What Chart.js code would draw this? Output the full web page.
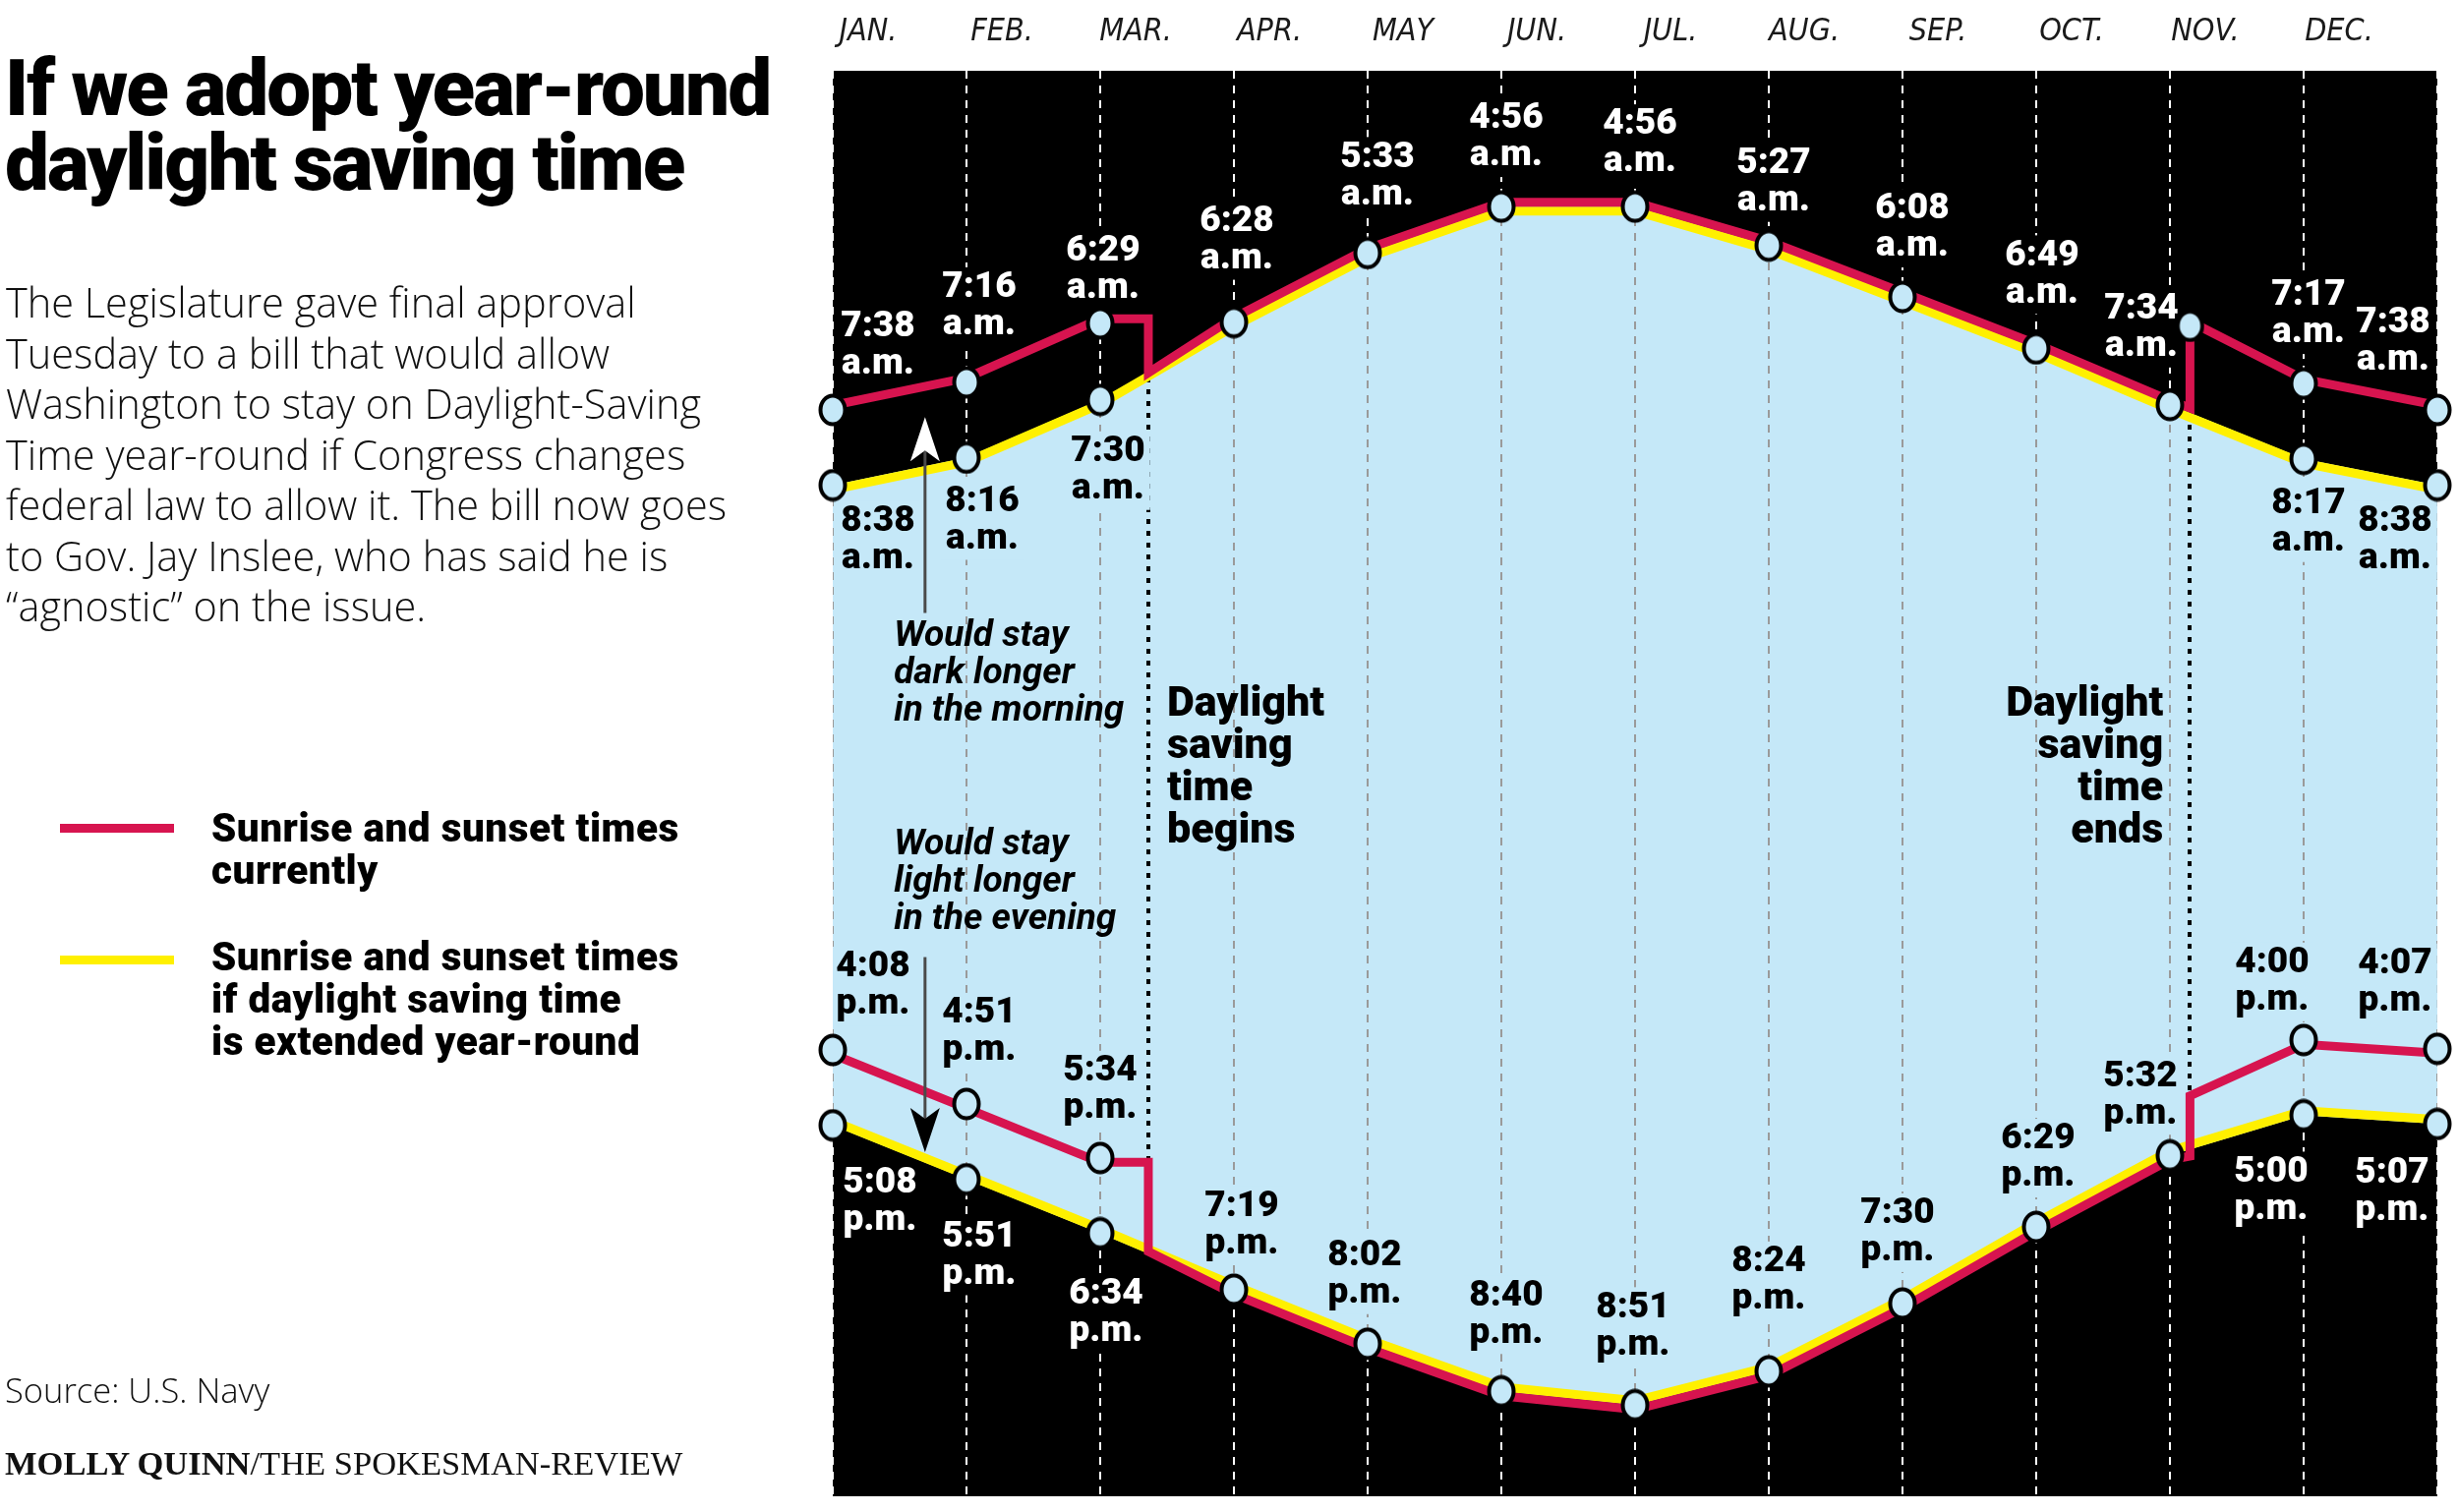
<!DOCTYPE html>
<html>
<head>
<meta charset="utf-8">
<script src="https://cdn.jsdelivr.net/npm/chart.js@4.4.1/dist/chart.umd.min.js"></script>
<style>
html,body{margin:0;padding:0;background:#fff;}
body{width:2500px;height:1538px;position:relative;overflow:hidden;font-family:Roboto,"DejaVu Sans",sans-serif;color:#111;}
#c{position:absolute;left:0;top:0;}
.t{position:absolute;white-space:nowrap;}
#title{left:5px;top:52px;font-weight:900;font-size:80px;line-height:76px;letter-spacing:-2px;color:#000;}
#intro{left:6px;top:282px;font-family:"Open Sans",Roboto,sans-serif;font-weight:300;font-size:41.5px;line-height:51.5px;color:#111;}
.sw{position:absolute;left:61px;width:116px;height:9px;}
.lg{position:absolute;left:215px;font-weight:900;font-size:40.5px;line-height:43px;letter-spacing:0.5px;color:#000;}
#src{left:5px;top:1394px;font-family:"Open Sans",Roboto,sans-serif;font-weight:300;font-size:34.5px;line-height:40px;}
#credit{left:5px;top:1468px;font-family:"Liberation Serif","DejaVu Serif",serif;font-size:34.5px;line-height:40px;color:#111;}
</style>
</head>
<body>
<canvas id="c" width="2500" height="1538"></canvas>
<div class="t" id="title">If we adopt year-round<br>daylight saving time</div>
<div class="t" id="intro">The Legislature gave final approval<br>Tuesday to a bill that would allow<br>Washington to stay on Daylight-Saving<br>Time year-round if Congress changes<br>federal law to allow it. The bill now goes<br>to Gov. Jay Inslee, who has said he is<br>“agnostic” on the issue.</div>
<div class="sw" style="top:838px;background:#d7144f;"></div>
<div class="t lg" style="top:821px;">Sunrise and sunset times<br>currently</div>
<div class="sw" style="top:972px;background:#fff000;"></div>
<div class="t lg" style="top:952px;">Sunrise and sunset times<br>if daylight saving time<br>is extended year-round</div>
<div class="t" id="src">Source: U.S. Navy</div>
<div class="t" id="credit"><b>MOLLY QUINN</b>/THE SPOKESMAN-REVIEW</div>
<script>
// ---------- data ----------
const months = ['JAN.','FEB.','MAR.','APR.','MAY','JUN.','JUL.','AUG.','SEP.','OCT.','NOV.','DEC.'];
const monthPos = [0,1,2,3,4,5,6,7,8,9,10,11,12];           // first of each month, 12 = next Jan. 1
const sunriseNow = ['7:38','7:16','6:29','6:28','5:33','4:56','4:56','5:27','6:08','6:49','7:34','7:17','7:38']; // a.m.
const sunriseDST = ['8:38','8:16','7:30','6:28','5:33','4:56','4:56','5:27','6:08','6:49','7:34','8:17','8:38']; // a.m.
const sunsetNow  = ['4:08','4:51','5:34','7:19','8:02','8:40','8:51','8:24','7:30','6:29','5:32','4:00','4:07']; // p.m.
const sunsetDST  = ['5:08','5:51','6:34','7:19','8:02','8:40','8:51','8:24','7:30','6:29','5:32','5:00','5:07']; // p.m.
const dstBegins = 2.36;   // ~March 11
const dstEnds = 10.15;    // ~November 4
const sunriseStepBegins = ['6:29','7:12'];  // current sunrise at the spring-forward step (a.m.)
const sunriseStepEnds   = ['7:40','6:31'];  // current sunrise at the fall-back step (a.m.)
const sunsetStepBegins  = ['5:34','6:45'];  // current sunset at the spring-forward step (p.m.)
const sunsetStepEnds    = ['5:29','4:41'];  // current sunset at the fall-back step (p.m.)
const yRange = [3.13, 22.06];               // hours of the day shown, top to bottom

// ---------- styles / label placement ----------
const SKY = '#c5e8f8', RED = '#d7144f', YEL = '#fff000';
// [series, index, dx, dy, textColour]
const labelSpots = [
  ['riseNow',0,46,-65,'w'],['riseNow',1,13,-77,'w'],['riseNow',2,3,-54,'w'],['riseNow',3,3,-83,'w'],
  ['riseNow',4,10,-78,'w'],['riseNow',5,5,-70,'w'],['riseNow',6,5,-64,'w'],['riseNow',7,5,-64,'w'],
  ['riseNow',8,10,-70,'w'],['riseNow',9,6,-75,'w'],['riseNow',10,-29,-78,'w'],['riseNow',11,5,-70,'w'],
  ['riseNow',12,-45,-69,'w'],
  ['riseDST',0,46,56,'k'],['riseDST',1,16,64,'k'],['riseDST',2,8,72,'k'],['riseDST',11,5,65,'k'],['riseDST',12,-43,56,'k'],
  ['setNow',0,41,-65,'k'],['setNow',1,13,-73,'k'],['setNow',2,0,-69,'k'],['setNow',3,8,-65,'k'],
  ['setNow',4,-3,-70,'k'],['setNow',5,5,-78,'k'],['setNow',6,-2,-80,'k'],['setNow',7,0,-92,'k'],
  ['setNow',8,-5,-72,'k'],['setNow',9,2,-70,'k'],['setNow',10,-30,-61,'k'],['setNow',11,-32,-59,'k'],['setNow',12,-43,-67,'k'],
  ['setDST',0,48,78,'w'],['setDST',1,13,78,'w'],['setDST',2,6,81,'w'],['setDST',11,-33,77,'w'],['setDST',12,-46,69,'w']
];
const notes = [
  {lines:['Would stay','dark longer','in the morning'], x:0.457, y:10.645, align:'left', font:'italic bold 37px Roboto', lh:38},
  {lines:['Would stay','light longer','in the evening'], x:0.457, y:13.41, align:'left', font:'italic bold 37px Roboto', lh:38},
  {lines:['Daylight','saving','time','begins'], x:2.50, y:11.56, align:'left', font:'900 43px Roboto', lh:43},
  {lines:['Daylight','saving','time','ends'], x:9.95, y:11.56, align:'right', font:'900 43px Roboto', lh:43}
];
const arrows = [
  {x:0.69, from:10.33, to:7.73, head:'#ffffff'},
  {x:0.69, from:14.90, to:17.49, head:'#000000'}
];

// ---------- helpers ----------
function hrs(s, pm){ const p = s.split(':').map(Number); return (pm && p[0] < 12 ? p[0] + 12 : p[0]) + p[1]/60; }
const seriesInfo = {
  riseNow:{vals:sunriseNow, pm:false}, riseDST:{vals:sunriseDST, pm:false},
  setNow:{vals:sunsetNow, pm:true}, setDST:{vals:sunsetDST, pm:true}
};
function monthly(vals, pm){ return monthPos.map((x,i)=>({x:x, y:hrs(vals[i], pm)})); }
function withSteps(vals, stepA, stepB, pm){
  const pts = [];
  for (let i=0;i<=2;i++) pts.push({x:monthPos[i], y:hrs(vals[i], pm)});
  pts.push({x:dstBegins, y:hrs(stepA[0], pm)}, {x:dstBegins, y:hrs(stepA[1], pm)});
  for (let i=3;i<=10;i++) pts.push({x:monthPos[i], y:hrs(vals[i], pm)});
  pts.push({x:dstEnds, y:hrs(stepB[0], pm)}, {x:dstEnds, y:hrs(stepB[1], pm)});
  for (let i=11;i<=12;i++) pts.push({x:monthPos[i], y:hrs(vals[i], pm)});
  return pts;
}
const markers = [];
monthPos.forEach((x,i)=>{
  markers.push({x:x, y:hrs(sunriseDST[i])}, {x:x, y:hrs(sunsetDST[i], true)});
  if (sunriseNow[i] !== sunriseDST[i]) markers.push({x:x, y:hrs(sunriseNow[i])});
  if (sunsetNow[i] !== sunsetDST[i]) markers.push({x:x, y:hrs(sunsetNow[i], true)});
});
markers.push({x:dstEnds, y:hrs(sunriseStepEnds[1])});

// slightly tall oval marker like the original
const oval = document.createElement('canvas');
oval.width = 30; oval.height = 34;
(function(){
  const g = oval.getContext('2d');
  g.beginPath(); g.ellipse(15, 17, 12.5, 14.5, 0, 0, Math.PI*2);
  g.fillStyle = SKY; g.fill(); g.lineWidth = 4; g.strokeStyle = '#000'; g.stroke();
})();

function dayPath(chart){
  const a = chart.getDatasetMeta(0).data, b = chart.getDatasetMeta(1).data;
  const p = new Path2D();
  p.moveTo(a[0].x, a[0].y);
  for (const e of a) p.lineTo(e.x, e.y);
  for (let i=b.length-1;i>=0;i--) p.lineTo(b[i].x, b[i].y);
  p.closePath();
  return p;
}

const decor = {
  id:'decor',
  beforeDraw(chart){
    const {ctx, chartArea:a} = chart;
    ctx.save(); ctx.fillStyle = '#000'; ctx.fillRect(a.left, a.top, a.right-a.left, a.bottom-a.top); ctx.restore();
  },
  beforeDatasetsDraw(chart){
    const {ctx, chartArea:a, scales:{x:xs, y:ys}} = chart;
    const day = dayPath(chart);
    ctx.save(); ctx.clip(day);
    ctx.strokeStyle = '#9a9a9a'; ctx.lineWidth = 2; ctx.setLineDash([8,7]);
    monthPos.forEach(v=>{ const x = Math.round(xs.getPixelForValue(v)); ctx.beginPath(); ctx.moveTo(x, a.top); ctx.lineTo(x, a.bottom); ctx.stroke(); });
    ctx.strokeStyle = '#000'; ctx.lineWidth = 4; ctx.setLineDash([5,7]);
    [dstBegins, dstEnds].forEach(v=>{ const x = Math.round(xs.getPixelForValue(v)); ctx.beginPath(); ctx.moveTo(x, a.top); ctx.lineTo(x, a.bottom); ctx.stroke(); });
    ctx.restore();
    ctx.save();
    ctx.font = '900 37px Roboto'; ctx.textAlign = 'center'; ctx.textBaseline = 'middle';
    labelSpots.forEach(([s,i,dx,dy,c])=>{
      const info = seriesInfo[s];
      const px = xs.getPixelForValue(monthPos[i]) + dx;
      const py = ys.getPixelForValue(hrs(info.vals[i], info.pm)) + dy;
      const l1 = info.vals[i], l2 = info.pm ? 'p.m.' : 'a.m.';
      const w = Math.max(ctx.measureText(l1).width, ctx.measureText(l2).width) + 10;
      ctx.save();
      if (c === 'k') { ctx.clip(day); ctx.fillStyle = SKY; }
      else { const r = new Path2D(); r.rect(a.left, a.top, a.right-a.left, a.bottom-a.top); r.addPath(day); ctx.clip(r, 'evenodd'); ctx.fillStyle = '#000'; }
      ctx.fillRect(px - w/2, py - 40, w, 80);
      ctx.restore();
      ctx.fillStyle = c === 'k' ? '#000' : '#fff';
      ctx.fillText(l1, px, py - 19);
      ctx.fillText(l2, px, py + 19);
    });
    ctx.fillStyle = '#000'; ctx.textBaseline = 'middle';
    notes.forEach(n=>{
      ctx.font = n.font; ctx.textAlign = n.align;
      const x = xs.getPixelForValue(n.x), y = ys.getPixelForValue(n.y);
      n.lines.forEach((t,k)=>ctx.fillText(t, x, y + k*n.lh));
    });
    ctx.restore();
  },
  afterDatasetsDraw(chart){
    const {ctx, scales:{x:xs, y:ys}} = chart;
    ctx.save();
    arrows.forEach(ar=>{
      const x = xs.getPixelForValue(ar.x), y0 = ys.getPixelForValue(ar.from), y1 = ys.getPixelForValue(ar.to);
      const dir = Math.sign(y1 - y0);
      ctx.strokeStyle = '#4a4a4a'; ctx.lineWidth = 3;
      ctx.beginPath(); ctx.moveTo(x, y0); ctx.lineTo(x, y1 - dir*34); ctx.stroke();
      ctx.fillStyle = ar.head;
      ctx.beginPath();
      ctx.moveTo(x, y1);
      ctx.lineTo(x - 15, y1 - dir*45);
      ctx.lineTo(x, y1 - dir*34);
      ctx.lineTo(x + 15, y1 - dir*45);
      ctx.closePath(); ctx.fill();
    });
    ctx.restore();
  },
  beforeDatasetDraw(chart, args){
    const s = chart.data.datasets[args.index].shiftY;
    if (s) { chart.ctx.save(); chart.ctx.translate(0, s); }
  },
  afterDatasetDraw(chart, args){
    if (chart.data.datasets[args.index].shiftY) chart.ctx.restore();
  }
};

const lineBase = {borderWidth:9, pointRadius:0, tension:0, borderJoinStyle:'miter', borderCapStyle:'butt', showLine:true};
new Chart(document.getElementById('c'), {
  type:'line',
  data:{datasets:[
    Object.assign({label:'Sunrise if DST year-round', data:monthly(sunriseDST,false), borderColor:YEL, fill:1, backgroundColor:SKY, shiftY:4.5, order:3}, lineBase),
    Object.assign({label:'Sunset if DST year-round', data:monthly(sunsetDST,true), borderColor:YEL, fill:false, shiftY:-4.5, order:3}, lineBase),
    Object.assign({label:'Sunrise currently', data:withSteps(sunriseNow, sunriseStepBegins, sunriseStepEnds, false), borderColor:RED, fill:false, shiftY:-4.5, order:2}, lineBase),
    Object.assign({label:'Sunset currently', data:withSteps(sunsetNow, sunsetStepBegins, sunsetStepEnds, true), borderColor:RED, fill:false, shiftY:4.5, order:2}, lineBase),
    {label:'points', data:markers, showLine:false, pointStyle:oval, pointRadius:15, order:0, clip:false}
  ]},
  options:{
    responsive:false, animation:false, events:[],
    layout:{padding:{left:847, right:21, top:0, bottom:12}},
    plugins:{legend:{display:false}, tooltip:{enabled:false}, filler:{drawTime:'beforeDatasetsDraw'}},
    scales:{
      x:{type:'linear', position:'top', min:0, max:12,
         afterFit(s){ s.height = 72; },
         ticks:{stepSize:1, autoSkip:false, maxRotation:0, includeBounds:true, labelOffset:36, padding:20,
                color:'#1a1a1a', font:{family:'"Liberation Sans Narrow", "DejaVu Sans Condensed", Roboto', style:'italic', size:32},
                callback:(v)=>months[v] ?? ''},
         grid:{color:'#ffffff', lineWidth:2, drawTicks:false},
         border:{display:false, dash:[8,7]}},
      y:{type:'linear', reverse:true, min:yRange[0], max:yRange[1], display:false}
    }
  },
  plugins:[decor]
});
</script>
</body>
</html>
